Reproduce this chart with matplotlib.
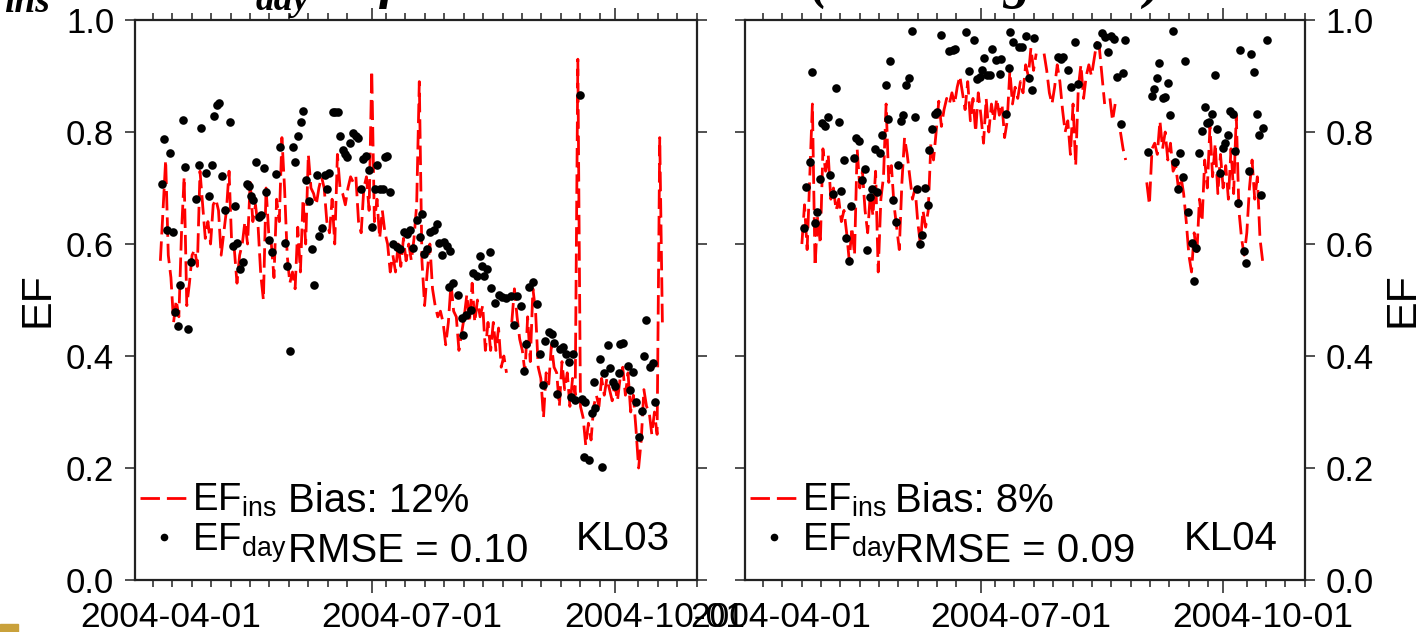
import numpy as np
import matplotlib
matplotlib.use('Agg')
import matplotlib.pyplot as plt
from matplotlib.lines import Line2D
from matplotlib.patches import Rectangle

plt.rcParams['font.family'] = ['Liberation Sans', 'DejaVu Sans']
plt.rcParams['mathtext.fontset'] = 'custom'
plt.rcParams['mathtext.rm'] = 'Liberation Sans'
plt.rcParams['mathtext.it'] = 'Liberation Sans:italic'
plt.rcParams['mathtext.bf'] = 'Liberation Sans:bold'

# x axis is day of year 2004
date_ticks = [92, 183, 275]
date_labels = ['2004-04-01', '2004-07-01', '2004-10-01']
y_ticks = [0.0, 0.2, 0.4, 0.6, 0.8, 1.0]
y_labels = ['0.0', '0.2', '0.4', '0.6', '0.8', '1.0']

# ---- KL03 ----
kl03_ins_start = 88
kl03_ins = [
    0.57, 0.66, 0.75, 0.58, 0.54, 0.46, 0.50, 0.47, 0.62, 0.72,
    0.49, 0.53, 0.58, 0.59, 0.56, 0.73, 0.67, 0.61, 0.64, 0.60,
    0.67, 0.68, 0.66, 0.58, 0.62, 0.66, 0.73, 0.60, 0.59, 0.53,
    0.58, 0.60, 0.64, 0.60, 0.71, 0.64, 0.67, 0.63, 0.545, 0.50,
    0.70, 0.62, 0.60, 0.54, 0.68, 0.64, 0.79, 0.70, 0.58, 0.53,
    0.55, 0.52, 0.63, 0.55, 0.68, 0.60, 0.76, 0.70, 0.69, 0.67,
    0.70, 0.72, 0.70, 0.64, 0.62, 0.68, 0.60, 0.76, 0.70, 0.69,
    0.67, 0.70, 0.72, 0.71, 0.72, 0.64, 0.62, 0.70, 0.72, 0.66,
    0.91, 0.64, 0.68, 0.61, 0.66, 0.62, 0.60, 0.55, 0.58, 0.55,
    0.60, 0.56, 0.61, 0.57, 0.60, 0.57, 0.61, 0.67, 0.89, 0.57,
    0.49, 0.55, 0.60, 0.52, 0.49, 0.47, 0.48, 0.46, 0.42, 0.46,
    0.53, 0.48, 0.47, 0.41, 0.44, 0.47, 0.51, 0.46, 0.53, 0.46,
    0.50, 0.47, 0.49, 0.41, 0.46, 0.41, 0.46, 0.41, 0.45, 0.38,
    0.40, 0.37, np.nan, 0.46, 0.52, 0.47, 0.43, 0.41, 0.37, 0.47,
    0.39, 0.52, 0.48, 0.38, 0.36, 0.29, 0.37, 0.35, 0.42, 0.38,
    0.37, 0.31, 0.39, 0.34, 0.37, 0.31, 0.36, 0.33, 0.93, 0.31,
    0.29, 0.24, 0.28, 0.25, 0.31, 0.33, 0.31, 0.36, 0.33, 0.36,
    0.34, 0.32, 0.35, 0.32, 0.36, 0.38, 0.33, 0.37, 0.30, 0.33,
    0.27, 0.20, 0.25, 0.34, 0.31, 0.30, 0.26, 0.30, 0.26, 0.79,
    0.46,
]
kl03_day_doy = [
    88.5, 89.3, 90.6, 91.6, 92.6, 93.5, 94.8, 95.4, 96.4, 97.4,
    98.6, 99.5, 101.5, 102.5, 103.5, 105.3, 106.3, 107.4, 108.4, 109.5,
    110.3, 111.3, 112.6, 114.3, 115.6, 116.2, 117.1, 118.1, 119.4, 120.7,
    121.4, 122.2, 123.2, 124.2, 125.2, 126.0, 127.2, 128.0, 129.0, 130.1,
    131.6, 133.3, 135.2, 136.1, 137.1, 138.1, 139.1, 140.2, 141.1, 142.1,
    143.0, 144.2, 145.3, 146.2, 147.2, 147.9, 149.1, 150.3, 151.0, 152.0,
    153.3, 154.2, 155.4, 156.0, 157.0, 157.9, 158.8, 159.8, 160.8, 162.1,
    162.9, 163.9, 164.8, 165.9, 167.1, 168.0, 169.3, 170.1, 171.2, 172.4,
    173.1, 173.9, 174.9, 176.2, 177.5, 178.7, 180.3, 181.3, 182.3, 183.8,
    185.1, 186.3, 186.9, 187.8, 188.9, 190.1, 191.4, 192.6, 193.6, 194.5,
    195.4, 196.4, 197.4, 197.7, 198.9, 200.8, 202.1, 202.5, 203.7, 205.5,
    206.5, 207.8, 208.8, 209.7, 210.6, 211.6, 212.6, 213.1, 214.7, 216.0,
    217.3, 218.9, 220.7, 221.9, 222.9, 224.5, 225.7, 226.5, 227.7, 229.0,
    230.5, 231.8, 232.8, 233.7, 234.9, 236.2, 237.1, 238.1, 239.1, 240.4,
    241.6, 242.5, 243.4, 244.2, 245.0, 246.7, 247.6, 248.2, 248.8, 250.1,
    251.4, 252.2, 252.6, 254.2, 255.1, 256.0, 257.3, 258.3, 259.3, 260.2,
    261.4, 262.1, 263.1, 264.8, 265.8, 266.8, 268.1, 269.0, 270.3, 270.9,
    271.9, 273.2, 274.5, 275.3,
]
kl03_day = [
    0.707, 0.788, 0.625, 0.762, 0.622, 0.479, 0.454, 0.527, 0.821, 0.737,
    0.448, 0.567, 0.680, 0.741, 0.807, 0.726, 0.686, 0.741, 0.829, 0.848,
    0.851, 0.721, 0.660, 0.818, 0.596, 0.668, 0.601, 0.555, 0.568, 0.707,
    0.704, 0.686, 0.679, 0.747, 0.648, 0.652, 0.735, 0.693, 0.607, 0.585,
    0.725, 0.773, 0.602, 0.561, 0.409, 0.773, 0.747, 0.793, 0.817, 0.838,
    0.715, 0.677, 0.591, 0.527, 0.723, 0.614, 0.628, 0.723, 0.698, 0.727,
    0.835, 0.836, 0.836, 0.792, 0.767, 0.761, 0.755, 0.780, 0.798, 0.793,
    0.790, 0.698, 0.751, 0.757, 0.733, 0.631, 0.699, 0.741, 0.698, 0.698,
    0.755, 0.757, 0.693, 0.600, 0.595, 0.591, 0.622, 0.618, 0.625, 0.592,
    0.643, 0.612, 0.654, 0.582, 0.591, 0.622, 0.625, 0.636, 0.602, 0.580,
    0.604, 0.596, 0.524, 0.588, 0.531, 0.509, 0.467, 0.438, 0.473, 0.483,
    0.549, 0.543, 0.579, 0.561, 0.542, 0.555, 0.585, 0.521, 0.495, 0.509,
    0.506, 0.503, 0.507, 0.455, 0.507, 0.489, 0.374, 0.421, 0.523, 0.533,
    0.493, 0.404, 0.348, 0.426, 0.443, 0.439, 0.423, 0.332, 0.412, 0.416,
    0.404, 0.390, 0.327, 0.404, 0.321, 0.866, 0.324, 0.219, 0.317, 0.214,
    0.299, 0.354, 0.307, 0.394, 0.201, 0.369, 0.420, 0.378, 0.354, 0.346,
    0.369, 0.421, 0.423, 0.382, 0.339, 0.372, 0.317, 0.256, 0.301, 0.400,
    0.464, 0.381, 0.387, 0.318,
]

# ---- KL04 ----
kl04_ins_start = 100
kl04_ins = [
    0.60, 0.67, 0.59, 0.72, 0.85, 0.56, 0.65, 0.60, 0.77, 0.73,
    0.76, 0.68, 0.70, 0.66, 0.68, 0.64, 0.66, 0.62, 0.57, 0.63,
    0.58, 0.77, 0.70, 0.73, 0.66, 0.62, 0.69, 0.65, 0.73, 0.55,
    0.68, 0.72, 0.85, 0.71, 0.74, 0.67, 0.63, 0.59, 0.71, 0.79,
    0.76, 0.72, 0.68, 0.70, 0.64, 0.60, 0.66, 0.63, 0.66, 0.78,
    0.75, 0.80, 0.855, 0.81, 0.84, 0.86, 0.85, 0.87, 0.85, 0.88,
    0.90, 0.87, 0.84, 0.89, 0.82, 0.86, 0.80, 0.87, 0.83, 0.78,
    0.86, 0.80, 0.85, 0.82, 0.86, 0.83, 0.85, 0.79, 0.82, 0.91,
    0.85, 0.88, 0.86, 0.89, 0.87, 0.92, 0.90, 0.95, 0.91, 0.94,
    np.nan, np.nan, 0.94, 0.91, 0.87, 0.85, 0.88, 0.92, 0.89, 0.84,
    0.80, 0.82, 0.76, 0.85, 0.74, 0.88, 0.92, 0.86, 0.90, 0.92,
    0.90, 0.93, 0.96, 0.95, 0.90, 0.85, np.nan, 0.86, 0.82, 0.85,
    np.nan, 0.80, 0.77, 0.75, np.nan, np.nan, np.nan, np.nan, np.nan, np.nan,
    np.nan, 0.71, 0.67, 0.77, 0.78, 0.76, 0.82, 0.77, 0.80, 0.75,
    0.78, 0.73, 0.74, 0.70, 0.72, 0.69, 0.64, 0.58, 0.55, 0.62,
    0.58, 0.68, 0.64, 0.75, 0.70, 0.81, 0.72, 0.78, 0.69, 0.76,
    0.70, 0.74, 0.68, 0.77, 0.69, 0.83, 0.66, 0.61, 0.58, 0.62,
    0.70, 0.75, 0.68, 0.72, 0.61, 0.57,
]
kl04_day_doy = [
    100.7, 101.7, 103.0, 104.0, 104.9, 105.6, 106.8, 107.8, 108.6, 109.8,
    110.8, 111.7, 113.1, 114.1, 115.0, 115.9, 116.9, 117.8, 118.6, 119.7,
    120.7, 121.7, 122.9, 123.9, 124.7, 125.7, 126.7, 127.7, 128.5, 129.5,
    130.5, 131.8, 132.6, 133.6, 134.8, 135.8, 136.6, 137.7, 138.6, 139.6,
    140.6, 141.9, 142.9, 143.6, 144.7, 145.7, 146.9, 147.8, 148.4, 149.5,
    150.4, 151.5, 152.7, 156.0, 157.3, 158.3, 162.3, 163.6, 165.5, 166.7,
    167.6, 168.4, 169.3, 170.5, 171.4, 172.4, 173.9, 175.2, 175.6, 177.5,
    178.5, 179.0, 180.3, 182.5, 183.6, 185.3, 186.1, 187.3, 188.3, 197.4,
    198.3, 199.2, 201.0, 202.1, 203.7, 205.0, 212.2, 213.9, 215.1, 216.4,
    217.6, 218.5, 219.8, 221.1, 221.9, 222.9, 231.5, 232.8, 233.7, 234.9,
    235.8, 237.1, 238.1, 238.9, 240.0, 240.9, 241.9, 242.9, 243.8, 244.8,
    245.7, 246.7, 248.0, 248.8, 249.7, 250.7, 252.0, 253.0, 253.9, 254.8,
    255.8, 256.8, 257.6, 258.9, 259.8, 260.8, 261.8, 262.7, 263.6, 264.6,
    265.6, 266.5, 267.8, 268.6, 269.7, 270.7, 271.7, 272.8, 273.7, 274.5,
    275.3, 276.6,
]
kl04_day = [
    0.629, 0.702, 0.747, 0.908, 0.637, 0.658, 0.716, 0.816, 0.811, 0.827,
    0.723, 0.689, 0.879, 0.818, 0.695, 0.750, 0.610, 0.570, 0.667, 0.753,
    0.790, 0.784, 0.714, 0.734, 0.589, 0.684, 0.699, 0.770, 0.693, 0.762,
    0.795, 0.884, 0.823, 0.927, 0.679, 0.639, 0.741, 0.820, 0.830, 0.884,
    0.897, 0.980, 0.826, 0.699, 0.600, 0.616, 0.700, 0.670, 0.768, 0.805,
    0.833, 0.835, 0.973, 0.945, 0.946, 0.948, 0.979, 0.909, 0.964, 0.895,
    0.899, 0.911, 0.933, 0.901, 0.901, 0.949, 0.929, 0.903, 0.930, 0.832,
    0.915, 0.978, 0.960, 0.951, 0.951, 0.972, 0.897, 0.875, 0.968, 0.934,
    0.930, 0.934, 0.911, 0.881, 0.960, 0.885, 0.955, 0.976, 0.970, 0.943,
    0.972, 0.966, 0.899, 0.814, 0.905, 0.964, 0.765, 0.865, 0.877, 0.897,
    0.924, 0.860, 0.862, 0.887, 0.830, 0.980, 0.746, 0.698, 0.762, 0.720,
    0.927, 0.658, 0.601, 0.534, 0.592, 0.762, 0.802, 0.845, 0.816, 0.818,
    0.832, 0.901, 0.805, 0.726, 0.772, 0.780, 0.795, 0.838, 0.832, 0.766,
    0.674, 0.946, 0.587, 0.566, 0.730, 0.940, 0.908, 0.833, 0.795, 0.688,
    0.807, 0.964,
]

panels = [
    ('KL03', kl03_ins_start, kl03_ins, kl03_day_doy, kl03_day, 'Bias: 12%', 'RMSE = 0.10'),
    ('KL04', kl04_ins_start, kl04_ins, kl04_day_doy, kl04_day, 'Bias: 8%', 'RMSE = 0.09'),
]

W, H = 1420, 632
fig = plt.figure(figsize=(W / 100, H / 100), dpi=100)
ax_boxes = [[135 / W, 52 / H, 562 / W, 560 / H], [745 / W, 52 / H, 560 / W, 560 / H]]

week_ticks = np.arange(85.2, 291, 7.35)
long_ticks = [168.2, 260.0]
minor_locs = sorted([t for t in week_ticks if min(abs(t - l) for l in long_ticks) > 3] + long_ticks)

for i, (name, start, ins, dd, dv, bias, rmse) in enumerate(panels):
    ax = fig.add_axes(ax_boxes[i])
    doy = np.arange(start, start + len(ins))
    ax.plot(doy, ins, color='red', lw=2.0, dashes=(7, 2.5), zorder=2)
    ax.plot(dd, dv, 'o', color='black', ms=6.2, mew=0, zorder=3)

    ax.set_xlim(78.4, 291.1)
    ax.set_ylim(0, 1)
    ax.set_xticks(date_ticks)
    ax.set_xticklabels(date_labels)
    ax.set_xticks(minor_locs, minor=True)
    ax.set_yticks(y_ticks)
    ax.set_yticklabels(y_labels)

    ax.tick_params(axis='x', which='major', length=0, pad=15, labelsize=25.5)
    ax.tick_params(axis='x', which='minor', length=5, width=1.2, direction='out',
                   top=True, bottom=True, color='#333333')
    ax.tick_params(axis='y', which='major', length=7, width=1.2, direction='out',
                   left=True, right=True, labelsize=25, pad=8, color='#333333')
    for t, loc in zip(ax.xaxis.get_minor_ticks(), ax.xaxis.get_minorticklocs()):
        if loc in long_ticks:
            t.tick1line.set_markersize(9)
            t.tick2line.set_markersize(9)

    for s in ax.spines.values():
        s.set_linewidth(1.6)
        s.set_color('#222222')

    if i == 1:
        ax.tick_params(axis='y', labelleft=False, labelright=True)
        ax.yaxis.set_label_position('right')
    ax.set_ylabel('EF', fontsize=31, labelpad=6)

    handles = [Line2D([], [], color='red', lw=2.0, dashes=(7, 2.5)),
               Line2D([], [], marker='o', color='black', ls='none', ms=5.5, mew=0)]
    labels = [r'EF$_\mathregular{ins}$', r'EF$_\mathregular{day}$']
    ax.legend(handles, labels, loc='lower left', bbox_to_anchor=(0.009, 0.027),
              frameon=False, fontsize=27.5, handlelength=1.25, handletextpad=0.12,
              labelspacing=0.05, borderpad=0, borderaxespad=0)
    tx = 0.272 if i == 0 else 0.268
    ax.text(tx, 0.121, bias, transform=ax.transAxes, fontsize=29, va='baseline')
    ax.text(tx, 0.032, rmse, transform=ax.transAxes, fontsize=29, va='baseline')
    ax.text(0.952, 0.054, name, transform=ax.transAxes, fontsize=29,
            ha='right', va='baseline')

# cut-off slide title above the chart
serif = dict(family=['Liberation Serif', 'DejaVu Serif'], weight='bold', style='italic')
fig.text(4 / W, 1 - 12 / H, 'ins', fontsize=27, va='baseline', **serif)
fig.text(256 / W, 1 - 10 / H, 'day', fontsize=27, va='baseline', **serif)
for frag, px in [('f', 379), ('(', 809), ('g', 1003), (')', 1144)]:
    fig.text(px / W, 1 + 3 / H, frag, fontsize=40, va='baseline', **serif)

fig.patches.append(Rectangle((0, 0), 18 / W, 8 / H, transform=fig.transFigure,
                             color='#C9A13B', zorder=5))

fig.savefig('out.png', dpi=100)
